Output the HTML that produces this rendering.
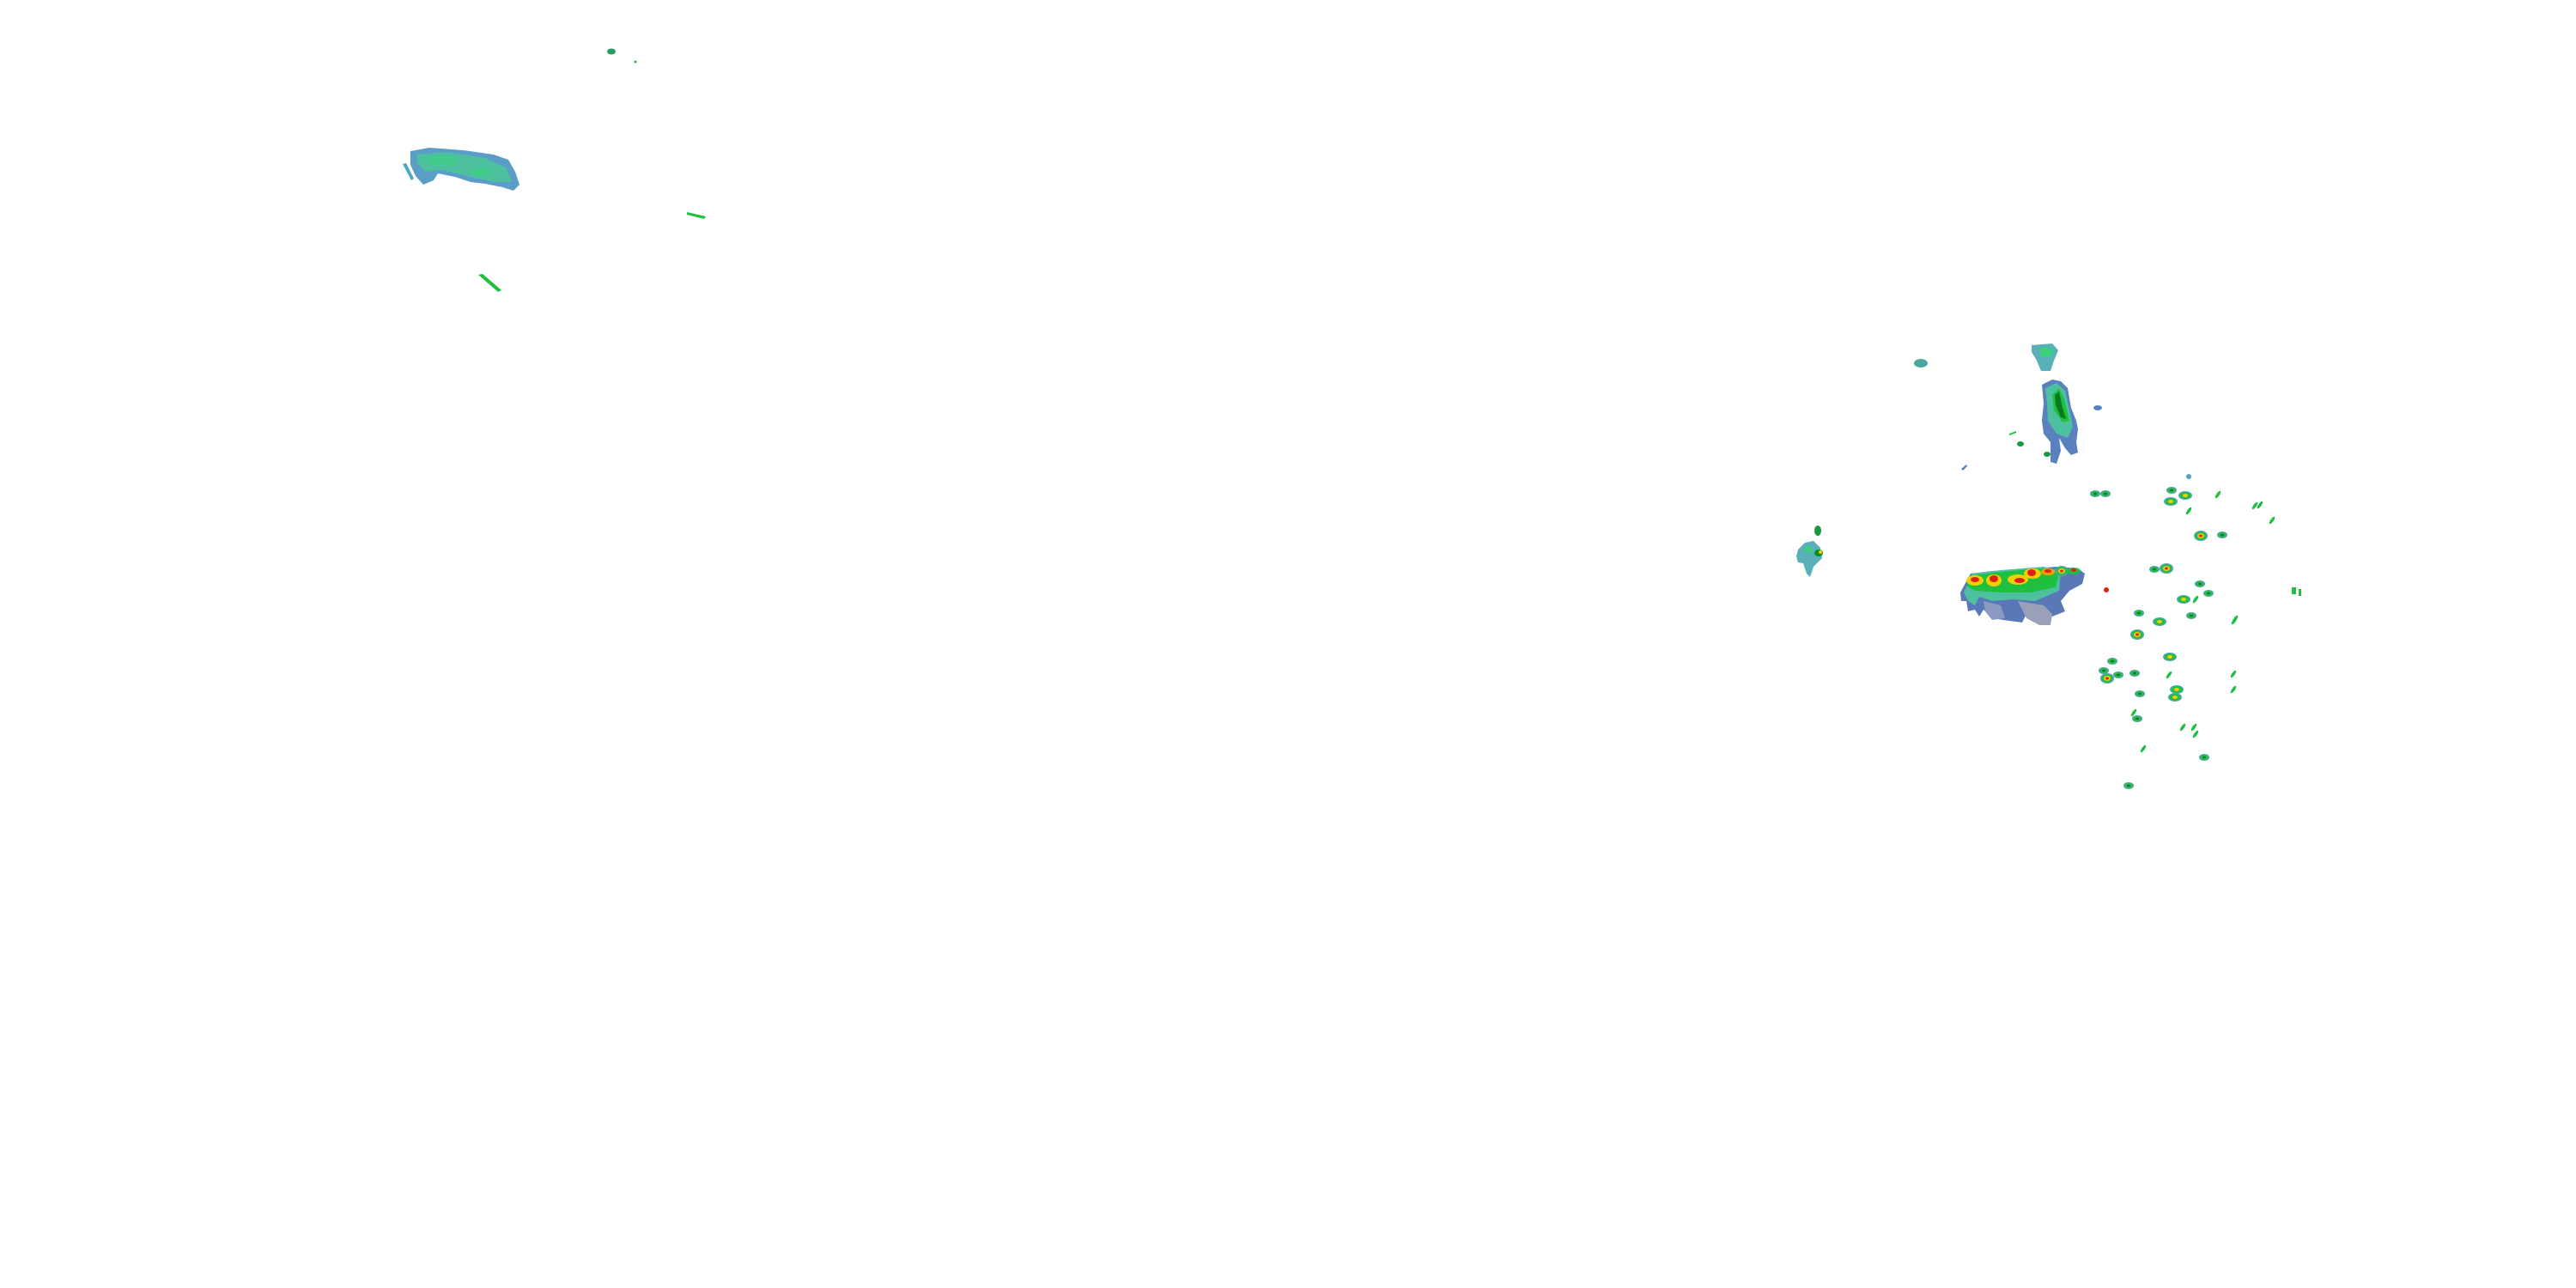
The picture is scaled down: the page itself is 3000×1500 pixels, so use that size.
<!DOCTYPE html>
<html><head><meta charset="utf-8"><style>html,body{margin:0;padding:0;background:#fff;width:3000px;height:1500px;overflow:hidden}</style></head>
<body>
<svg width="3000" height="1500" viewBox="0 0 3000 1500" xmlns="http://www.w3.org/2000/svg">
<defs>
<g id="c"><ellipse rx="6" ry="4" fill="#4aa8a0"/><ellipse rx="4" ry="2.6" fill="#1fc040"/><ellipse rx="2" ry="1.4" fill="#0a7a20"/></g>
<g id="r"><ellipse rx="8" ry="6" fill="#4aa8a0"/><ellipse rx="6" ry="4.5" fill="#1fc040"/><ellipse rx="4" ry="3" fill="#f0d000"/><ellipse rx="2" ry="1.5" fill="#e02010"/></g>
<g id="y"><ellipse rx="8" ry="5" fill="#4aa8a0"/><ellipse rx="6" ry="3.5" fill="#1fc040"/><ellipse rx="3" ry="2" fill="#f0d000"/></g>
<g id="s"><ellipse rx="5" ry="1.8" fill="#1fc040" transform="rotate(-55)"/></g>
</defs>
<!-- NW cloud -->
<path d="M478,176 L500,172 L540,175 L575,180 L592,186 L600,200 L605,215 L598,222 L585,218 L565,214 L548,212 L530,206 L510,202 L505,210 L493,215 L484,205 L478,192 Z" fill="#5a9ec8"/>
<path d="M485,180 L520,177 L565,184 L590,196 L596,212 L575,212 L548,206 L515,198 L495,200 L486,190 Z" fill="#4dc0a0"/>
<ellipse cx="515" cy="187" rx="18" ry="6" fill="#3ad080" opacity=".7"/>
<ellipse cx="560" cy="200" rx="12" ry="5" fill="#3ad080" opacity=".7"/>
<path d="M469,191 L473,190 L482,208 L479,210 Z" fill="#4aa8c0"/>
<ellipse cx="712" cy="60" rx="5" ry="3.5" fill="#2a9a60"/>
<circle cx="740" cy="72" r="1.5" fill="#1fc040"/>
<path d="M800,247 L822,252 L820,255 L800,250 Z" fill="#1fc040"/>
<path d="M557,320 L562,319 L584,338 L580,340 Z" fill="#1fc040"/>
<!-- NE cells -->
<ellipse cx="2237" cy="423" rx="8" ry="5" fill="#4aa8a0"/>
<path d="M2366,402 L2390,400 L2397,408 L2392,420 L2388,432 L2377,432 L2372,420 L2366,410 Z" fill="#5ab0b8"/>
<ellipse cx="2383" cy="410" rx="8" ry="6" fill="#3ad080"/>
<path d="M2378,448 L2390,442 L2400,444 L2408,452 L2412,475 L2418,490 L2420,500 L2418,515 L2420,527 L2412,530 L2405,522 L2398,510 L2400,525 L2395,540 L2388,538 L2388,515 L2380,505 L2378,490 L2380,470 Z" fill="#5a80c0"/>
<path d="M2382,452 L2395,446 L2405,455 L2410,478 L2414,497 L2408,510 L2395,505 L2385,490 L2384,470 Z" fill="#4dc0a0"/>
<path d="M2390,460 L2398,452 L2404,465 L2410,490 L2402,492 L2392,478 Z" fill="#1fc040"/>
<path d="M2393,460 L2398,456 L2402,475 L2406,488 L2400,486 L2394,472 Z" fill="#0a7a20"/>
<ellipse cx="2443" cy="475" rx="5" ry="3" fill="#5a80c0"/>
<ellipse cx="2384" cy="529" rx="4" ry="3" fill="#1a9a40"/>
<ellipse cx="2353" cy="517" rx="4" ry="3" fill="#1a9a40"/>
<path d="M2340,505 L2348,502 L2348,504 L2340,507Z" fill="#1fc040"/>
<path d="M2284,546 L2290,541 L2291,543 L2286,548Z" fill="#5a80c0"/>
<!-- W cell -->
<path d="M2094,640 L2102,632 L2112,630 L2120,638 L2122,650 L2112,660 L2108,672 L2104,668 L2100,656 L2094,655 L2092,648 Z" fill="#5ab0b8"/>
<ellipse cx="2106" cy="640" rx="5" ry="4" fill="#3ad080"/>
<ellipse cx="2118" cy="644" rx="5" ry="4" fill="#0a8a20"/>
<ellipse cx="2120" cy="643" rx="2" ry="2" fill="#f0d000"/>
<ellipse cx="2117" cy="618" rx="4" ry="6" fill="#1a9a40"/>
<!-- storm line -->
<path d="M2283,690 L2295,668 L2320,665 L2345,664 L2370,662 L2395,660 L2420,662 L2428,668 L2425,680 L2410,688 L2400,700 L2405,712 L2390,718 L2380,722 L2360,715 L2355,725 L2340,723 L2320,720 L2310,710 L2305,718 L2300,710 L2292,712 L2290,700 L2284,700 Z" fill="#5a78b8"/>
<path d="M2350,700 L2380,705 L2390,715 L2388,728 L2375,728 L2360,720 Z" fill="#9aa0b8"/>
<path d="M2310,700 L2330,705 L2335,720 L2320,722 L2312,712 Z" fill="#8a9ac0"/>
<path d="M2287,690 L2297,668 L2330,664 L2380,660 L2400,665 L2398,688 L2370,700 L2345,698 L2320,700 L2305,695 L2300,705 L2292,700 Z" fill="#4dc0a0"/>
<path d="M2290,682 L2298,670 L2330,666 L2378,662 L2398,668 L2394,684 L2365,690 L2330,690 L2300,688 Z" fill="#1fc040"/>
<ellipse cx="2300" cy="676" rx="10" ry="6" fill="#f0d000"/><ellipse cx="2300" cy="675" rx="5" ry="3" fill="#e02010"/>
<ellipse cx="2322" cy="676" rx="9" ry="7" fill="#f0d000"/><ellipse cx="2322" cy="674" rx="5" ry="4" fill="#e02010"/>
<ellipse cx="2350" cy="675" rx="12" ry="6" fill="#f0d000"/><ellipse cx="2352" cy="676" rx="6" ry="3" fill="#e02010"/>
<ellipse cx="2367" cy="668" rx="10" ry="6" fill="#f0d000"/><ellipse cx="2366" cy="667" rx="5" ry="4" fill="#e02010"/>
<ellipse cx="2385" cy="666" rx="8" ry="4" fill="#f0a000"/><ellipse cx="2385" cy="665" rx="4" ry="2" fill="#e02010"/>
<use href="#r" x="2401" y="665"/>
<ellipse cx="2415" cy="665" rx="8" ry="4" fill="#1fc040"/><ellipse cx="2415" cy="664" rx="3" ry="2" fill="#e02010"/>
<!-- scattered cells -->
<use href="#c" x="2440" y="575"/><use href="#c" x="2452" y="575"/><use href="#c" x="2529" y="571"/>
<use href="#y" x="2528" y="584"/><use href="#y" x="2545" y="577"/><use href="#s" x="2549" y="595"/>
<ellipse cx="2549" cy="555" rx="3" ry="3" fill="#5a9ec8"/><use href="#s" x="2583" y="576"/>
<use href="#s" x="2632" y="588"/><use href="#s" x="2646" y="606"/>
<use href="#r" x="2563" y="624"/><use href="#c" x="2588" y="623"/>
<use href="#c" x="2509" y="663"/><use href="#r" x="2523" y="662"/>
<circle cx="2453" cy="687" r="3" fill="#e02010"/>
<use href="#c" x="2562" y="680"/><use href="#c" x="2572" y="691"/>
<use href="#y" x="2543" y="698"/><use href="#s" x="2557" y="698"/>
<rect x="2669" y="684" width="5" height="8" fill="#1fc040"/><rect x="2677" y="686" width="3" height="8" fill="#1fc040"/>
<use href="#c" x="2491" y="714"/><use href="#y" x="2515" y="724"/><use href="#c" x="2552" y="717"/><use href="#s" x="2603" y="721"/>
<use href="#r" x="2489" y="739"/><use href="#y" x="2527" y="765"/><use href="#c" x="2460" y="770"/>
<use href="#c" x="2450" y="781"/><use href="#r" x="2454" y="790"/><use href="#c" x="2467" y="786"/><use href="#c" x="2486" y="784"/>
<use href="#c" x="2492" y="808"/><use href="#s" x="2526" y="786"/><use href="#y" x="2535" y="803"/><use href="#y" x="2533" y="812"/>
<use href="#s" x="2601" y="785"/><use href="#s" x="2601" y="803"/>
<use href="#s" x="2485" y="830"/><use href="#c" x="2489" y="837"/>
<use href="#s" x="2542" y="847"/><use href="#s" x="2555" y="847"/><use href="#s" x="2557" y="855"/>
<use href="#s" x="2496" y="872"/><use href="#c" x="2567" y="882"/><use href="#c" x="2479" y="915"/>
<use href="#s" x="2626" y="589"/><use href="#s" x="2602" y="723"/>
</svg>
</body></html>
